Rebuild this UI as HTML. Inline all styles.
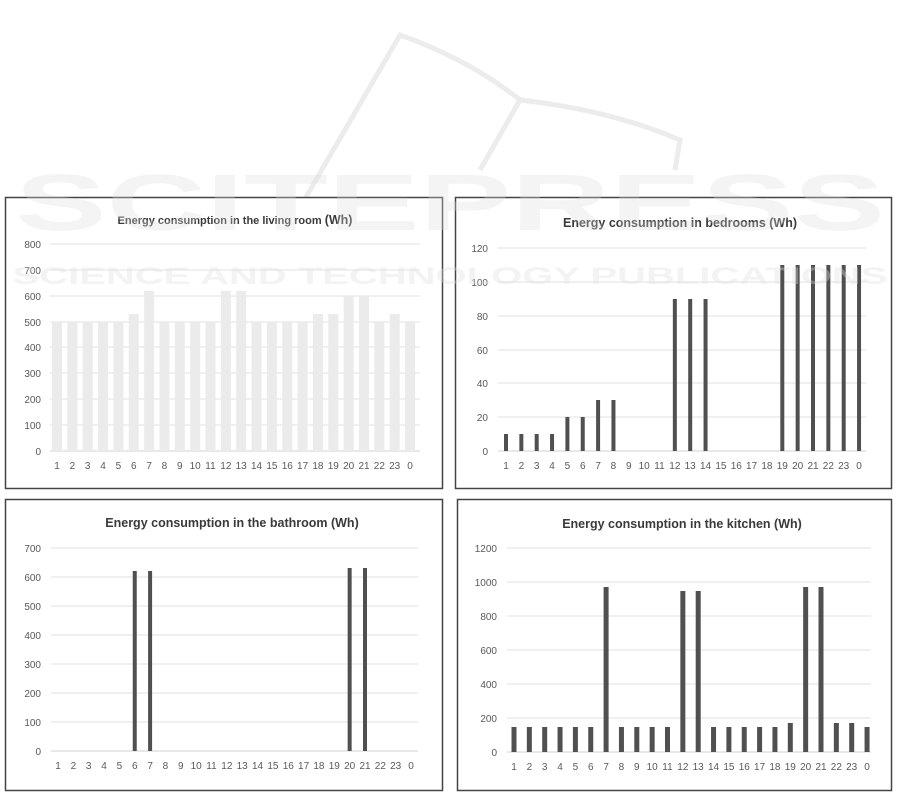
<!DOCTYPE html>
<html><head><meta charset="utf-8"><style>
html,body{margin:0;padding:0;background:#fff;}
svg{display:block;}
text{font-family:"Liberation Sans",sans-serif;}
.t{font-size:10px;fill:#595959;}
.ti{font-size:12.5px;font-weight:bold;fill:#3a3a3a;}
.g{stroke:#e2e2e2;stroke-width:1;}
</style></head><body>
<svg width="901" height="797" viewBox="0 0 901 797" xmlns="http://www.w3.org/2000/svg">
<rect width="901" height="797" fill="#fff"/>
<path d="M255,285 L400,35 Q470,60 520,100 Q610,110 680,140 L675,170 M520,100 L480,170" fill="none" stroke="#ececec" stroke-width="5"/>

<!-- Panel 1 -->
<rect x="5.5" y="197.5" width="437" height="291" fill="#fff" stroke="#444" stroke-width="1.5"/>
<text class="ti" x="235" y="224" text-anchor="middle" style="font-size:11px">Energy consumption in the living room  <tspan style="font-size:12.5px">(Wh)</tspan></text>
<g class="g"><line x1="50" x2="420" y1="244" y2="244"/><line x1="50" x2="420" y1="270" y2="270"/><line x1="50" x2="420" y1="296" y2="296"/><line x1="50" x2="420" y1="322" y2="322"/><line x1="50" x2="420" y1="347" y2="347"/><line x1="50" x2="420" y1="373" y2="373"/><line x1="50" x2="420" y1="399" y2="399"/><line x1="50" x2="420" y1="425" y2="425"/><line x1="50" x2="420" y1="451" y2="451" stroke="#d0d0d0"/></g>
<g class="t" text-anchor="end"><text x="41" y="248">800</text><text x="41" y="274">700</text><text x="41" y="300">600</text><text x="41" y="326">500</text><text x="41" y="351">400</text><text x="41" y="377">300</text><text x="41" y="403">200</text><text x="41" y="429">100</text><text x="41" y="455">0</text></g>
<g transform="translate(57,451)" fill="#ebebeb">
<rect x="-5" y="-129" width="10" height="129"/><rect x="10.35" y="-129" width="10" height="129"/><rect x="25.7" y="-129" width="10" height="129"/><rect x="41.05" y="-129" width="10" height="129"/><rect x="56.4" y="-129" width="10" height="129"/><rect x="71.75" y="-137" width="10" height="137"/><rect x="87.1" y="-160" width="10" height="160"/><rect x="102.45" y="-129" width="10" height="129"/><rect x="117.8" y="-129" width="10" height="129"/><rect x="133.15" y="-129" width="10" height="129"/><rect x="148.5" y="-129" width="10" height="129"/><rect x="163.85" y="-160" width="10" height="160"/><rect x="179.2" y="-160" width="10" height="160"/><rect x="194.55" y="-129" width="10" height="129"/><rect x="209.9" y="-129" width="10" height="129"/><rect x="225.25" y="-129" width="10" height="129"/><rect x="240.6" y="-129" width="10" height="129"/><rect x="255.95" y="-137" width="10" height="137"/><rect x="271.3" y="-137" width="10" height="137"/><rect x="286.65" y="-155" width="10" height="155"/><rect x="302" y="-155" width="10" height="155"/><rect x="317.35" y="-129" width="10" height="129"/><rect x="332.7" y="-137" width="10" height="137"/><rect x="348.05" y="-129" width="10" height="129"/>
</g>
<g class="t" text-anchor="middle" transform="translate(57,469)">
<text x="0">1</text><text x="15.35">2</text><text x="30.7">3</text><text x="46.05">4</text><text x="61.4">5</text><text x="76.75">6</text><text x="92.1">7</text><text x="107.45">8</text><text x="122.8">9</text><text x="138.15">10</text><text x="153.5">11</text><text x="168.85">12</text><text x="184.2">13</text><text x="199.55">14</text><text x="214.9">15</text><text x="230.25">16</text><text x="245.6">17</text><text x="260.95">18</text><text x="276.3">19</text><text x="291.65">20</text><text x="307">21</text><text x="322.35">22</text><text x="337.7">23</text><text x="353.05">0</text>
</g>

<!-- Panel 2 -->
<rect x="455.5" y="197.5" width="436" height="291" fill="#fff" stroke="#444" stroke-width="1.5"/>
<text class="ti" x="680" y="227" text-anchor="middle">Energy consumption in bedrooms  (Wh)</text>
<g class="g"><line x1="498" x2="866" y1="248" y2="248"/><line x1="498" x2="866" y1="282" y2="282"/><line x1="498" x2="866" y1="316" y2="316"/><line x1="498" x2="866" y1="350" y2="350"/><line x1="498" x2="866" y1="383" y2="383"/><line x1="498" x2="866" y1="417" y2="417"/><line x1="498" x2="866" y1="451" y2="451" stroke="#d0d0d0"/></g>
<g class="t" text-anchor="end"><text x="488" y="252">120</text><text x="488" y="286">100</text><text x="488" y="320">80</text><text x="488" y="354">60</text><text x="488" y="387">40</text><text x="488" y="421">20</text><text x="488" y="455">0</text></g>
<g transform="translate(506,451)" fill="#505050">
<rect x="-2" y="-17" width="4" height="17"/><rect x="13.35" y="-17" width="4" height="17"/><rect x="28.7" y="-17" width="4" height="17"/><rect x="44.05" y="-17" width="4" height="17"/><rect x="59.4" y="-34" width="4" height="34"/><rect x="74.75" y="-34" width="4" height="34"/><rect x="90.1" y="-51" width="4" height="51"/><rect x="105.45" y="-51" width="4" height="51"/><rect x="166.85" y="-152" width="4" height="152"/><rect x="182.2" y="-152" width="4" height="152"/><rect x="197.55" y="-152" width="4" height="152"/><rect x="274.3" y="-186" width="4" height="186"/><rect x="289.65" y="-186" width="4" height="186"/><rect x="305" y="-186" width="4" height="186"/><rect x="320.35" y="-186" width="4" height="186"/><rect x="335.7" y="-186" width="4" height="186"/><rect x="351.05" y="-186" width="4" height="186"/>
</g>
<g class="t" text-anchor="middle" transform="translate(506,469)">
<text x="0">1</text><text x="15.35">2</text><text x="30.7">3</text><text x="46.05">4</text><text x="61.4">5</text><text x="76.75">6</text><text x="92.1">7</text><text x="107.45">8</text><text x="122.8">9</text><text x="138.15">10</text><text x="153.5">11</text><text x="168.85">12</text><text x="184.2">13</text><text x="199.55">14</text><text x="214.9">15</text><text x="230.25">16</text><text x="245.6">17</text><text x="260.95">18</text><text x="276.3">19</text><text x="291.65">20</text><text x="307">21</text><text x="322.35">22</text><text x="337.7">23</text><text x="353.05">0</text>
</g>

<!-- Panel 3 -->
<rect x="5.5" y="499.5" width="437" height="291" fill="#fff" stroke="#444" stroke-width="1.5"/>
<text class="ti" x="232" y="527" text-anchor="middle">Energy consumption in the bathroom  (Wh)</text>
<g class="g"><line x1="51" x2="418" y1="548" y2="548"/><line x1="51" x2="418" y1="577" y2="577"/><line x1="51" x2="418" y1="606" y2="606"/><line x1="51" x2="418" y1="635" y2="635"/><line x1="51" x2="418" y1="664" y2="664"/><line x1="51" x2="418" y1="693" y2="693"/><line x1="51" x2="418" y1="722" y2="722"/><line x1="51" x2="418" y1="751" y2="751" stroke="#d0d0d0"/></g>
<g class="t" text-anchor="end"><text x="41" y="552">700</text><text x="41" y="581">600</text><text x="41" y="610">500</text><text x="41" y="639">400</text><text x="41" y="668">300</text><text x="41" y="697">200</text><text x="41" y="726">100</text><text x="41" y="755">0</text></g>
<g transform="translate(58,751)" fill="#505050">
<rect x="74.75" y="-180" width="4" height="180"/><rect x="90.1" y="-180" width="4" height="180"/><rect x="289.65" y="-183" width="4" height="183"/><rect x="305" y="-183" width="4" height="183"/>
</g>
<g class="t" text-anchor="middle" transform="translate(58,769)">
<text x="0">1</text><text x="15.35">2</text><text x="30.7">3</text><text x="46.05">4</text><text x="61.4">5</text><text x="76.75">6</text><text x="92.1">7</text><text x="107.45">8</text><text x="122.8">9</text><text x="138.15">10</text><text x="153.5">11</text><text x="168.85">12</text><text x="184.2">13</text><text x="199.55">14</text><text x="214.9">15</text><text x="230.25">16</text><text x="245.6">17</text><text x="260.95">18</text><text x="276.3">19</text><text x="291.65">20</text><text x="307">21</text><text x="322.35">22</text><text x="337.7">23</text><text x="353.05">0</text>
</g>

<!-- Panel 4 -->
<rect x="457.5" y="499.5" width="434" height="291" fill="#fff" stroke="#444" stroke-width="1.5"/>
<text class="ti" x="682" y="528" text-anchor="middle">Energy consumption in the kitchen (Wh)</text>
<g class="g"><line x1="507" x2="871" y1="548" y2="548"/><line x1="507" x2="871" y1="582" y2="582"/><line x1="507" x2="871" y1="616" y2="616"/><line x1="507" x2="871" y1="650" y2="650"/><line x1="507" x2="871" y1="684" y2="684"/><line x1="507" x2="871" y1="718" y2="718"/><line x1="507" x2="871" y1="752" y2="752" stroke="#d0d0d0"/></g>
<g class="t" text-anchor="end"><text x="497" y="552">1200</text><text x="497" y="586">1000</text><text x="497" y="620">800</text><text x="497" y="654">600</text><text x="497" y="688">400</text><text x="497" y="722">200</text><text x="497" y="756">0</text></g>
<g transform="translate(514,752)" fill="#505050">
<rect x="-2.5" y="-25" width="5" height="25"/><rect x="12.85" y="-25" width="5" height="25"/><rect x="28.2" y="-25" width="5" height="25"/><rect x="43.55" y="-25" width="5" height="25"/><rect x="58.9" y="-25" width="5" height="25"/><rect x="74.25" y="-25" width="5" height="25"/><rect x="89.6" y="-165" width="5" height="165"/><rect x="104.95" y="-25" width="5" height="25"/><rect x="120.3" y="-25" width="5" height="25"/><rect x="135.65" y="-25" width="5" height="25"/><rect x="151" y="-25" width="5" height="25"/><rect x="166.35" y="-161" width="5" height="161"/><rect x="181.7" y="-161" width="5" height="161"/><rect x="197.05" y="-25" width="5" height="25"/><rect x="212.4" y="-25" width="5" height="25"/><rect x="227.75" y="-25" width="5" height="25"/><rect x="243.1" y="-25" width="5" height="25"/><rect x="258.45" y="-25" width="5" height="25"/><rect x="273.8" y="-29" width="5" height="29"/><rect x="289.15" y="-165" width="5" height="165"/><rect x="304.5" y="-165" width="5" height="165"/><rect x="319.85" y="-29" width="5" height="29"/><rect x="335.2" y="-29" width="5" height="29"/><rect x="350.55" y="-25" width="5" height="25"/>
</g>
<g class="t" text-anchor="middle" transform="translate(514,770)">
<text x="0">1</text><text x="15.35">2</text><text x="30.7">3</text><text x="46.05">4</text><text x="61.4">5</text><text x="76.75">6</text><text x="92.1">7</text><text x="107.45">8</text><text x="122.8">9</text><text x="138.15">10</text><text x="153.5">11</text><text x="168.85">12</text><text x="184.2">13</text><text x="199.55">14</text><text x="214.9">15</text><text x="230.25">16</text><text x="245.6">17</text><text x="260.95">18</text><text x="276.3">19</text><text x="291.65">20</text><text x="307">21</text><text x="322.35">22</text><text x="337.7">23</text><text x="353.05">0</text>
</g>

<text x="450" y="230" text-anchor="middle" textLength="870" lengthAdjust="spacingAndGlyphs" style="font-size:80px;font-weight:bold;fill:#dddddd;opacity:0.3">SCITEPRESS</text>
<text x="450" y="284" text-anchor="middle" textLength="875" lengthAdjust="spacingAndGlyphs" style="font-size:24px;font-weight:bold;fill:#dddddd;opacity:0.35">SCIENCE AND TECHNOLOGY PUBLICATIONS</text>
</svg>
</body></html>
